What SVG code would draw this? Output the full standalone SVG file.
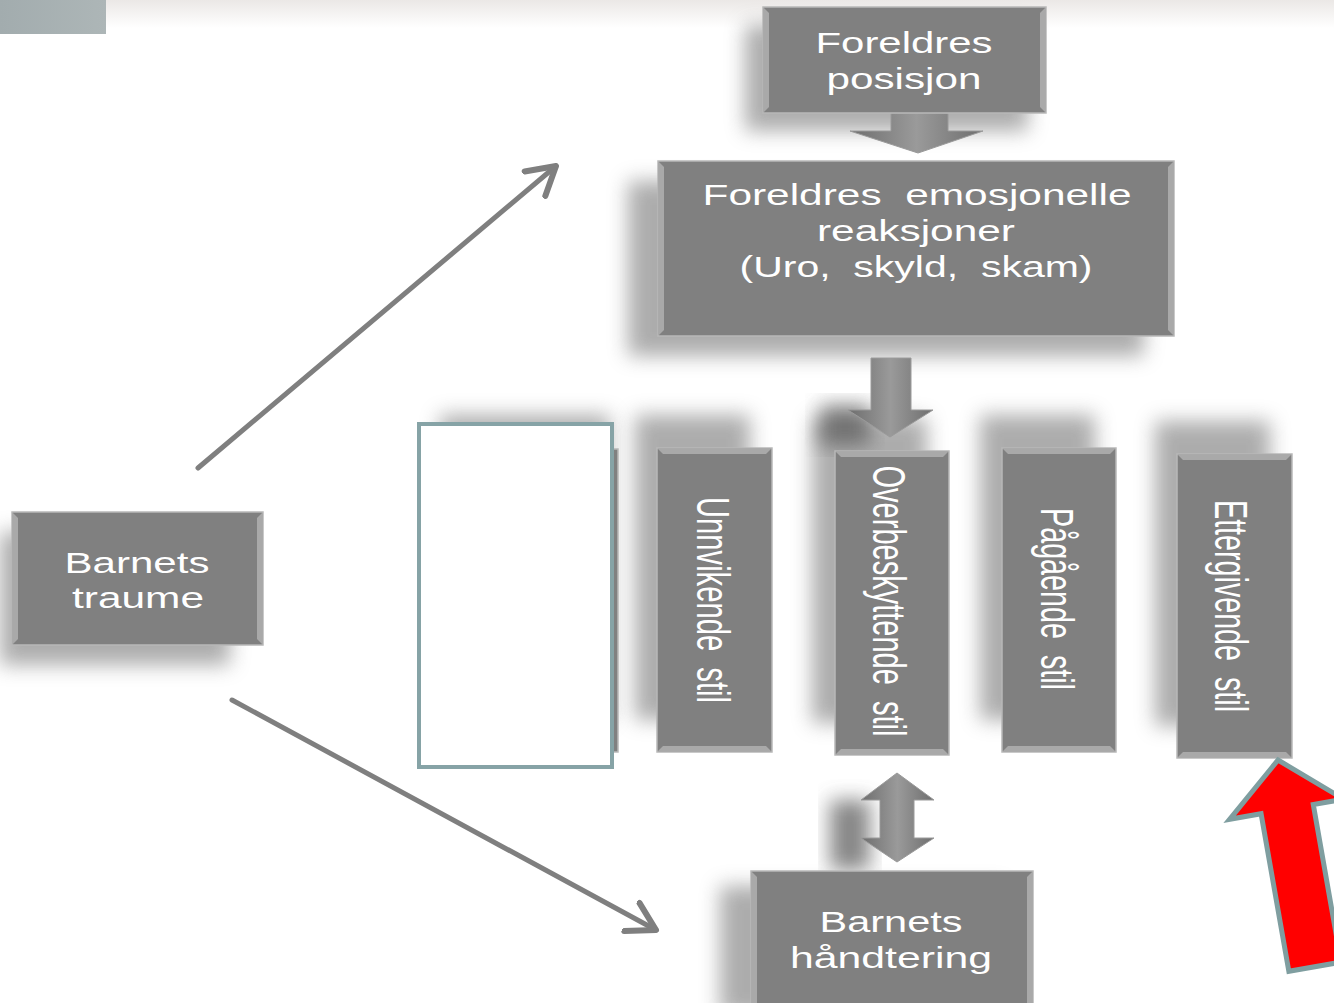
<svg xmlns="http://www.w3.org/2000/svg" width="1334" height="1003" viewBox="0 0 1334 1003">
<defs>
<style>
.box{fill:#808080;stroke:#b8b8b8;stroke-width:1.5}
.bev{fill:#c4c4c4;opacity:0.6}
.t{font-family:"Liberation Sans",Arial,sans-serif;font-size:30px;fill:#ffffff;text-anchor:middle}
.sh{fill:#8a8a8a;opacity:0.7;filter:url(#blur)}
.conn{stroke:#7f7f7f;stroke-width:5;fill:none;stroke-linecap:round}
.blk{fill:url(#blkg);stroke:#9a9a9a;stroke-width:1}
</style>
<filter id="blur" x="-30%" y="-30%" width="160%" height="160%"><feGaussianBlur stdDeviation="10"/></filter>
<linearGradient id="topg" x1="0" y1="0" x2="0" y2="1"><stop offset="0" stop-color="#ebe8e6"/><stop offset="1" stop-color="#ffffff"/></linearGradient>
<linearGradient id="tlg" x1="0" y1="0" x2="1" y2="0"><stop offset="0" stop-color="#a2acae"/><stop offset="1" stop-color="#adb6b7"/></linearGradient>
<linearGradient id="blkg" x1="0" y1="0" x2="1" y2="0"><stop offset="0" stop-color="#6e6e6e"/><stop offset="0.5" stop-color="#9a9a9a"/><stop offset="1" stop-color="#6e6e6e"/></linearGradient>
<marker id="ah" markerWidth="8" markerHeight="8" refX="6" refY="4" orient="auto" markerUnits="strokeWidth"><path d="M0.5,0.8 L6,4 L0.5,7.2" fill="none" stroke="#7f7f7f" stroke-width="1.2" stroke-linecap="round" stroke-linejoin="round"/></marker>
</defs>

<rect x="0" y="0" width="1334" height="1003" fill="#ffffff"/>
<rect x="0" y="0" width="1334" height="28" fill="url(#topg)"/>
<rect x="0" y="0" width="106" height="34" fill="url(#tlg)"/>

<g id="shadows">
<rect class="sh" x="745" y="25" width="283" height="106"/>
<rect class="sh" x="628" y="181" width="516" height="175"/>
<rect class="sh" x="0" y="532" width="230" height="133"/>
<rect class="sh" x="720" y="886" width="282" height="130"/>
<rect class="sh" x="440" y="415" width="170" height="305"/>
<rect class="sh" x="635" y="415" width="115" height="305"/>
<rect class="sh" x="812" y="418" width="115" height="305"/>
<rect class="sh" x="980" y="415" width="115" height="305"/>
<rect class="sh" x="1155" y="421" width="115" height="305"/>
<rect class="sh" x="820" y="405" width="50" height="40" style="fill:#555"/>
<rect class="sh" x="830" y="800" width="40" height="70" style="fill:#555"/>
</g>

<g id="connectors">
<line class="conn" x1="198" y1="468" x2="556" y2="166" marker-end="url(#ah)"/>
<line class="conn" x1="232" y1="700" x2="656" y2="930" marker-end="url(#ah)"/>
<polygon class="blk" points="891,113 948,113 948,131 983,131 918,153 850,131 891,131"/>
<polygon class="blk" points="871,358 911,358 911,410 933,410 890,437 848,410 871,410"/>
<polygon class="blk" points="897,773 934,800 914,800 914,838 934,838 897,862 861,838 880,838 880,800 861,800"/>
</g>

<g id="hidden-box">
<rect class="box" x="418" y="449" width="200" height="303"/>
</g>
<g id="white-box">
<rect x="419" y="424" width="193" height="343" fill="#ffffff" stroke="#86a3a6" stroke-width="4"/>
</g>

<g id="foreldres-posisjon">
<rect class="box" x="763" y="7" width="283" height="106"/>
<polygon class="bev" points="764,8 769,13 769,107 764,112"/>
<polygon class="bev" points="1045,8 1040,13 1040,107 1045,112"/>
<text class="t" x="904" y="53" textLength="177" lengthAdjust="spacingAndGlyphs">Foreldres</text>
<text class="t" x="904" y="89" textLength="155" lengthAdjust="spacingAndGlyphs">posisjon</text>
</g>

<g id="foreldres-emosjonelle">
<rect class="box" x="658" y="161" width="516" height="175"/>
<polygon class="bev" points="659,162 664,167 664,330 659,335"/>
<polygon class="bev" points="1173,162 1168,167 1168,330 1173,335"/>
<text class="t" x="917" y="205" textLength="429" lengthAdjust="spacingAndGlyphs" xml:space="preserve">Foreldres  emosjonelle</text>
<text class="t" x="916" y="241" textLength="198" lengthAdjust="spacingAndGlyphs">reaksjoner</text>
<text class="t" x="916" y="277" textLength="353" lengthAdjust="spacingAndGlyphs" xml:space="preserve">(Uro,  skyld,  skam)</text>
</g>

<g id="barnets-traume">
<rect class="box" x="12" y="512" width="251" height="133"/>
<polygon class="bev" points="13,513 18,518 18,639 13,644"/>
<polygon class="bev" points="262,513 257,518 257,639 262,644"/>
<text class="t" x="137" y="573" textLength="145" lengthAdjust="spacingAndGlyphs">Barnets</text>
<text class="t" x="138" y="608" textLength="132" lengthAdjust="spacingAndGlyphs">traume</text>
</g>

<g id="barnets-handtering">
<rect class="box" x="751" y="871" width="282" height="140"/>
<polygon class="bev" points="752,872 757,877 757,1003 752,1003"/>
<polygon class="bev" points="1032,872 1027,877 1027,1003 1032,1003"/>
<text class="t" x="891" y="932" textLength="143" lengthAdjust="spacingAndGlyphs">Barnets</text>
<text class="t" x="891" y="968" textLength="202" lengthAdjust="spacingAndGlyphs">håndtering</text>
</g>

<g id="unnvikende">
<rect class="box" x="657" y="448" width="115" height="304"/>
<polygon class="bev" points="658,449 771,449 766,454 663,454"/>
<polygon class="bev" points="658,751 771,751 766,746 663,746"/>
<text class="t" transform="translate(697,600) scale(1.55,1) rotate(90)" textLength="206" lengthAdjust="spacingAndGlyphs" xml:space="preserve">Unnvikende  stil</text>
</g>

<g id="overbeskyttende">
<rect class="box" x="835" y="451" width="114" height="304"/>
<polygon class="bev" points="836,452 948,452 943,457 841,457"/>
<polygon class="bev" points="836,754 948,754 943,749 841,749"/>
<text class="t" transform="translate(873,601) scale(1.55,1) rotate(90)" textLength="271" lengthAdjust="spacingAndGlyphs" xml:space="preserve">Overbeskyttende  stil</text>
</g>

<g id="pagaende">
<rect class="box" x="1002" y="448" width="114" height="304"/>
<polygon class="bev" points="1003,449 1115,449 1110,454 1008,454"/>
<polygon class="bev" points="1003,751 1115,751 1110,746 1008,746"/>
<text class="t" transform="translate(1041,599) scale(1.55,1) rotate(90)" textLength="182" lengthAdjust="spacingAndGlyphs" xml:space="preserve">Pågående  stil</text>
</g>

<g id="ettergivende">
<rect class="box" x="1177" y="454" width="115" height="304"/>
<polygon class="bev" points="1178,455 1291,455 1286,460 1183,460"/>
<polygon class="bev" points="1178,757 1291,757 1286,752 1183,752"/>
<text class="t" transform="translate(1215,606) scale(1.55,1) rotate(90)" textLength="212" lengthAdjust="spacingAndGlyphs" xml:space="preserve">Ettergivende  stil</text>
</g>

<g id="red-arrow">
<polygon transform="translate(1278,760) rotate(-10)" points="0,0 58,50 27,50 27,210 -26,210 -26,50 -58,50" fill="#ff0000" stroke="#7f9ea0" stroke-width="5" stroke-linejoin="miter"/>
</g>
</svg>
